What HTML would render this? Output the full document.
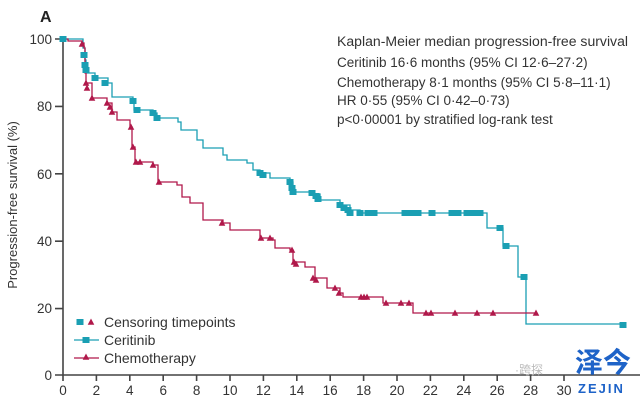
<!DOCTYPE html>
<html><head><meta charset="utf-8"><style>
html,body{margin:0;padding:0;background:#fff;}
svg{display:block;}
text{font-family:"Liberation Sans","Noto Sans CJK SC",sans-serif;}
</style></head><body>
<svg width="640" height="403" viewBox="0 0 640 403" xmlns="http://www.w3.org/2000/svg">
<defs>
<rect id="sq" x="-3.5" y="-3" width="7" height="6" fill="#1a9fb3"/>
<path id="tr" d="M0,-3.5 L3.3,2.8 L-3.3,2.8 Z" fill="#b0184a"/>
</defs>
<text x="40" y="22" font-size="16" font-weight="bold" fill="#222">A</text>
<g stroke="#444" stroke-width="1.6" fill="none">
<path d="M63,39 V375 H640"/>
<path d="M55,39H63M55,106.4H63M55,173.8H63M55,241.2H63M55,308.6H63M55,375H63"/>
<path d="M63,375v6M96.4,375v6M129.8,375v6M163.2,375v6M196.6,375v6M230,375v6M263.4,375v6M296.8,375v6M330.2,375v6M363.6,375v6M397,375v6M430.4,375v6M463.8,375v6M497.2,375v6M530.6,375v6M564,375v6"/>
</g>
<g font-size="13.5" fill="#333" text-anchor="end">
<text x="52" y="44">100</text><text x="52" y="111">80</text><text x="52" y="179">60</text>
<text x="52" y="246">40</text><text x="52" y="313">20</text><text x="52" y="380">0</text>
</g>
<g font-size="13.5" fill="#333" text-anchor="middle">
<text x="63" y="395">0</text><text x="96.4" y="395">2</text><text x="129.8" y="395">4</text><text x="163.2" y="395">6</text>
<text x="196.6" y="395">8</text><text x="230" y="395">10</text><text x="263.4" y="395">12</text><text x="296.8" y="395">14</text>
<text x="330.2" y="395">16</text><text x="363.6" y="395">18</text><text x="397" y="395">20</text><text x="430.4" y="395">22</text>
<text x="463.8" y="395">24</text><text x="497.2" y="395">26</text><text x="530.6" y="395">28</text><text x="564" y="395">30</text>
</g>
<text transform="translate(17,205) rotate(-90)" font-size="13" fill="#333" text-anchor="middle">Progression-free survival (%)</text>
<path fill="none" stroke="#1a9fb3" stroke-width="1.3" d="M63,39 H83 V48 H85 V60 H86 V70 H87 V73 H95 V78 H108 V83 H112 V97 H133 V101 H134 V110 H153 V113 H157 V118 H178 V122 H181 V130 H197 V140 H203 V148 H223 V155 H227 V160 H247 V163 H253 V170 H260 V173 H270 V178 H290 V182 H293 V192 H313 V194 H320 V200 H340 V205 H350 V210 H360 V213 H487 V228 H503 V246 H518 V277 H526 V324 H623"/>
<path fill="none" stroke="#b0184a" stroke-width="1.3" d="M63,39 H68 V41 H82 V43 H84 V48 H85 V73 H86 V83 H92 V98 H107 V103 H112 V112 H117 V120 H130 V127 H132 V147 H135 V162 H153 V165 H158 V182 H177 V185 H182 V197 H190 V203 H203 V220 H223 V223 H230 V230 H260 V238 H273 V240 H275 V248 H290 V250 H293 V262 H305 V267 H315 V278 H327 V288 H340 V293 H343 V297 H383 V303 H413 V313 H537"/>
<g>
<use href="#sq" x="63" y="39"/><use href="#sq" x="84" y="55"/><use href="#sq" x="85" y="65"/><use href="#sq" x="86" y="70"/><use href="#sq" x="95" y="78"/><use href="#sq" x="105" y="83"/><use href="#sq" x="133" y="101"/><use href="#sq" x="137" y="110"/><use href="#sq" x="153" y="113"/><use href="#sq" x="157" y="118"/><use href="#sq" x="260" y="173"/><use href="#sq" x="263" y="175"/><use href="#sq" x="290" y="182"/><use href="#sq" x="292" y="188"/><use href="#sq" x="293" y="192"/><use href="#sq" x="312" y="193"/><use href="#sq" x="316" y="196"/><use href="#sq" x="318" y="199"/><use href="#sq" x="340" y="205"/><use href="#sq" x="344" y="208"/><use href="#sq" x="348" y="210"/><use href="#sq" x="350" y="213"/><use href="#sq" x="360" y="213"/><use href="#sq" x="368" y="213"/><use href="#sq" x="374" y="213"/><use href="#sq" x="405" y="213"/><use href="#sq" x="412" y="213"/><use href="#sq" x="418" y="213"/><use href="#sq" x="432" y="213"/><use href="#sq" x="452" y="213"/><use href="#sq" x="458" y="213"/><use href="#sq" x="467" y="213"/><use href="#sq" x="473" y="213"/><use href="#sq" x="480" y="213"/><use href="#sq" x="500" y="228"/><use href="#sq" x="506" y="246"/><use href="#sq" x="524" y="277"/><use href="#sq" x="623" y="325"/>
</g>
<g>
<use href="#tr" x="82" y="44"/><use href="#tr" x="86" y="83"/><use href="#tr" x="87" y="88"/><use href="#tr" x="92" y="98"/><use href="#tr" x="107" y="103"/><use href="#tr" x="110" y="107"/><use href="#tr" x="112" y="112"/><use href="#tr" x="131" y="127"/><use href="#tr" x="133" y="147"/><use href="#tr" x="136" y="162"/><use href="#tr" x="140" y="162"/><use href="#tr" x="153" y="165"/><use href="#tr" x="159" y="182"/><use href="#tr" x="222" y="223"/><use href="#tr" x="261" y="238"/><use href="#tr" x="270" y="238"/><use href="#tr" x="292" y="250"/><use href="#tr" x="294" y="262"/><use href="#tr" x="296" y="264"/><use href="#tr" x="313" y="278"/><use href="#tr" x="316" y="280"/><use href="#tr" x="335" y="288"/><use href="#tr" x="339" y="293"/><use href="#tr" x="361" y="297"/><use href="#tr" x="364" y="297"/><use href="#tr" x="367" y="297"/><use href="#tr" x="386" y="303"/><use href="#tr" x="401" y="303"/><use href="#tr" x="409" y="303"/><use href="#tr" x="426" y="313"/><use href="#tr" x="431" y="313"/><use href="#tr" x="455" y="313"/><use href="#tr" x="477" y="313"/><use href="#tr" x="493" y="313"/><use href="#tr" x="536" y="313"/>
</g>
<use href="#sq" x="80" y="322"/><use href="#tr" x="91" y="322"/>
<text x="104" y="327" font-size="14" fill="#333">Censoring timepoints</text>
<line x1="74" y1="340" x2="99" y2="340" stroke="#1a9fb3" stroke-width="1.3"/><use href="#sq" x="86" y="340"/>
<text x="104" y="345" font-size="14" fill="#333">Ceritinib</text>
<line x1="74" y1="358" x2="99" y2="358" stroke="#b0184a" stroke-width="1.3"/><use href="#tr" x="86" y="357"/>
<text x="104" y="363" font-size="14" fill="#333">Chemotherapy</text>
<g font-size="13.5" fill="#333">
<text x="337" y="46" textLength="291" lengthAdjust="spacingAndGlyphs">Kaplan-Meier median progression-free survival</text>
<text x="337" y="67">Ceritinib 16·6 months (95% CI 12·6–27·2)</text>
<text x="337" y="87">Chemotherapy 8·1 months (95% CI 5·8–11·1)</text>
<text x="337" y="105">HR 0·55 (95% CI 0·42–0·73)</text>
<text x="337" y="124">p&lt;0·00001 by stratified log-rank test</text>
</g>
<text x="515" y="374" font-size="12" fill="#bbb">·跨探</text>
<text x="575" y="372" font-size="28" font-weight="bold" fill="#1e63c8" font-family="Noto Sans CJK SC,sans-serif">泽今</text>
<text x="578" y="393" font-size="13" font-weight="bold" fill="#1e63c8" letter-spacing="2">ZEJIN</text>
</svg>
</body></html>
